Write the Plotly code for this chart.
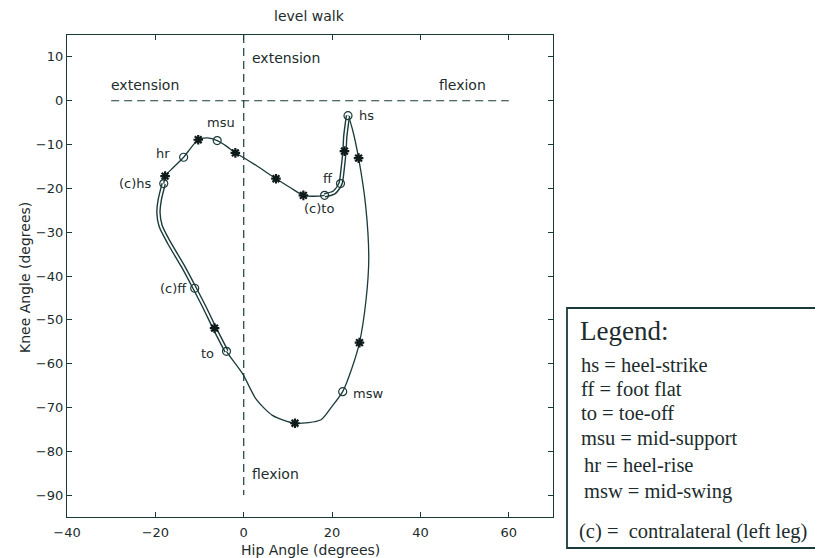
import plotly.graph_objects as go

# ---- data ----
hip_angle = [23.6, 23.0, 22.8, 22.4, 21.9, 20.5, 18.3, 15.5, 13.5, 10.5,
             7.3, 3.0, 0.0, -1.9, -4.0, -6.0, -8.2, -10.3, -12.0, -13.6,
             -16.0, -17.8, -18.1, -19.0, -19.3, -18.8, -16.9, -13.8, -11.1, -8.8,
             -6.6, -3.9, -0.2, 2.8, 6.5, 11.6, 17.5, 19.8, 22.4, 24.5,
             26.2, 27.7, 28.3, 27.6, 26.0, 24.6, 23.6]
knee_angle = [-3.4, -8.0, -11.5, -15.5, -18.9, -20.9, -21.6, -21.8, -21.6, -19.8,
              -17.8, -14.9, -13.0, -11.9, -10.3, -9.1, -8.5, -8.9, -10.8, -12.9,
              -15.3, -17.2, -18.9, -22.6, -25.6, -28.6, -32.4, -37.7, -42.8, -47.3,
              -51.9, -57.2, -62.4, -68.1, -71.8, -73.6, -72.8, -70.0, -66.4, -61.0,
              -55.2, -45.3, -36.0, -24.0, -13.1, -6.5, -3.4]

# every 10 % of the gait cycle (asterisks)
star_index = [2, 8, 10, 13, 17, 21, 30, 35, 40, 44]
# gait events (circles)
event_index = [0, 4, 6, 15, 19, 22, 28, 31, 38]
event_label = ["hs", "ff", "(c)to", "msu", "hr", "(c)hs", "(c)ff", "to", "msw"]
# double-support phases (drawn as double line)
double_support = [(0, 6), (22, 31)]

x_ticks = [-40, -20, 0, 20, 40, 60, 70]
x_tick_text = ["\u221240", "\u221220", "0", "20", "40", "60", ""]
y_ticks = [10, 0, -10, -20, -30, -40, -50, -60, -70, -80, -90]
y_tick_text = ["10", "0", "\u221210", "\u221220", "\u221230", "\u221240",
               "\u221250", "\u221260", "\u221270", "\u221280", "\u221290"]

legend_title = "Legend:"
legend_lines = ["hs = heel-strike", "ff = foot flat", "to = toe-off",
                "msu = mid-support", "hr = heel-rise", "msw = mid-swing"]
legend_note = "(c) =\u00a0 contralateral (left leg)"

# ---- styling ----
LINE = "#1b3a3a"
TEXT = "#1c2c2c"
FONT = "DejaVu Sans"
SERIF = "Liberation Serif"

OFF = 8  # the page body adds an 8 px margin
W, H = 823 - OFF, 558 - OFF
L, R, T, B = 67 - OFF, 553 - OFF, 35 - OFF, 517 - OFF


def px(xp):
    return (xp - OFF - L) / (R - L)


def py(yp):
    return (B - (yp - OFF)) / (B - T)


fig = go.Figure()

# reference dashed lines
fig.add_trace(go.Scatter(x=[-30, 60], y=[0, 0], mode="lines",
                         line=dict(color=LINE, width=1.2, dash="8px,5px"),
                         hoverinfo="skip", showlegend=False))
fig.add_trace(go.Scatter(x=[0, 0], y=[15, -90], mode="lines",
                         line=dict(color=LINE, width=1.2, dash="8px,5px"),
                         hoverinfo="skip", showlegend=False))

# main cyclogram
fig.add_trace(go.Scatter(x=hip_angle, y=knee_angle, mode="lines",
                         line=dict(color=LINE, width=1.3, shape="spline", smoothing=0.7),
                         showlegend=False))

# double-support segments: thick dark line with white core
for a, b in double_support:
    fig.add_trace(go.Scatter(x=hip_angle[a:b + 1], y=knee_angle[a:b + 1], mode="lines",
                             line=dict(color=LINE, width=4.6, shape="spline", smoothing=0.7),
                             showlegend=False))
for a, b in double_support:
    fig.add_trace(go.Scatter(x=hip_angle[a:b + 1], y=knee_angle[a:b + 1], mode="lines",
                             line=dict(color="white", width=1.8, shape="spline", smoothing=0.7),
                             showlegend=False))

# asterisks
fig.add_trace(go.Scatter(x=[hip_angle[i] for i in star_index],
                         y=[knee_angle[i] for i in star_index],
                         mode="markers",
                         marker=dict(symbol="asterisk-open", size=8, color="#0f1a1a",
                                     line=dict(color="#0f1a1a", width=2.2)),
                         showlegend=False))

# events (circles)
fig.add_trace(go.Scatter(x=[hip_angle[i] for i in event_index],
                         y=[knee_angle[i] for i in event_index],
                         mode="markers",
                         marker=dict(symbol="circle-open", size=8, color=LINE,
                                     line=dict(color=LINE, width=1.2)),
                         showlegend=False))

label_shift = {"hs": (18, 0), "ff": (-12, 5), "(c)to": (-6, -13), "msu": (4, 18),
               "hr": (-21, 4), "(c)hs": (-28, 0), "(c)ff": (-21, 0), "to": (-19, -2),
               "msw": (25, -2)}

tf = dict(family=FONT, size=14, color=TEXT)
annotations = []
for i, t in zip(event_index, event_label):
    dx, dy = label_shift[t]
    annotations.append(dict(text=t, x=hip_angle[i], y=knee_angle[i], xshift=dx, yshift=dy,
                            showarrow=False, xanchor="center", yanchor="middle",
                            font=dict(family=FONT, size=13, color=TEXT)))

annotations += [
    dict(text="level walk", x=px(309), y=py(16), xref="paper", yref="paper",
         xanchor="center", yanchor="middle", showarrow=False, font=tf),
    dict(text="Hip Angle (degrees)", x=px(310), y=py(550), xref="paper", yref="paper",
         xanchor="center", yanchor="middle", showarrow=False, font=tf),
    dict(text="Knee Angle (degrees)", x=px(25), y=py(278), xref="paper", yref="paper",
         xanchor="center", yanchor="middle", textangle=-90, showarrow=False, font=tf),
    dict(text="extension", x=-22.4, y=3.6, showarrow=False, xanchor="center",
         yanchor="middle", font=tf),
    dict(text="extension", x=9.6, y=9.8, showarrow=False, xanchor="center",
         yanchor="middle", font=tf),
    dict(text="flexion", x=49.6, y=3.6, showarrow=False, xanchor="center",
         yanchor="middle", font=tf),
    dict(text="flexion", x=7.2, y=-85.2, showarrow=False, xanchor="center",
         yanchor="middle", font=tf),
    dict(text=legend_title, x=px(578), y=py(331), xref="paper", yref="paper",
         xanchor="left", yanchor="middle", showarrow=False,
         font=dict(family=SERIF, size=27, color=TEXT)),
]
legend_y = [365, 389, 413, 438, 465, 491]
legend_x = [579, 579, 579, 579, 582, 582]
for t, xx, yy in zip(legend_lines, legend_x, legend_y):
    annotations.append(dict(text=t, x=px(xx), y=py(yy), xref="paper", yref="paper",
                            xanchor="left", yanchor="middle", showarrow=False,
                            font=dict(family=SERIF, size=20.5, color=TEXT)))
annotations.append(dict(text=legend_note, x=px(577), y=py(531), xref="paper", yref="paper",
                        xanchor="left", yanchor="middle", showarrow=False,
                        font=dict(family=SERIF, size=20.5, color=TEXT)))

shapes = [dict(type="rect", xref="paper", yref="paper",
               x0=px(567), x1=px(821), y0=py(548), y1=py(308),
               line=dict(color=LINE, width=1.8))]

axis_common = dict(showgrid=False, zeroline=False, showline=True, mirror="ticks",
                   linecolor=LINE, linewidth=1.3, ticks="inside", ticklen=5,
                   tickcolor=LINE, tickwidth=1.2,
                   tickfont=dict(family=FONT, size=13, color=TEXT))

fig.update_layout(
    width=W, height=H,
    margin=dict(l=L, r=W - R, t=T, b=H - B),
    paper_bgcolor="white", plot_bgcolor="white",
    xaxis=dict(range=[-40, 70], tickvals=x_ticks, ticktext=x_tick_text,
               ticklabelstandoff=3, **axis_common),
    yaxis=dict(range=[-95, 15], tickvals=y_ticks, ticktext=y_tick_text, **axis_common),
    annotations=annotations, shapes=shapes,
)

fig.write_html("out.html")
